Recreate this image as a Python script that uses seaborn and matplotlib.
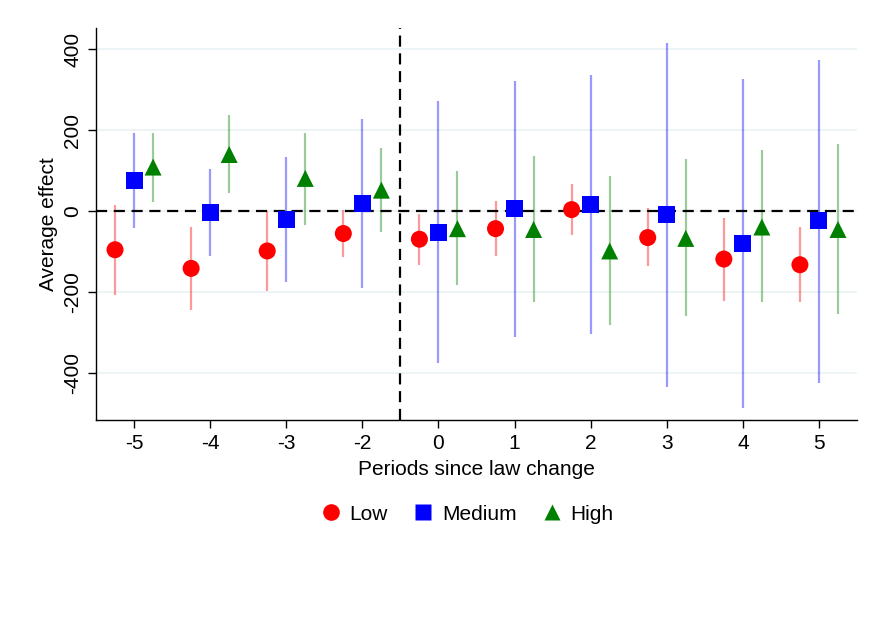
import numpy as np
import pandas as pd
import matplotlib
matplotlib.use("Agg")
import matplotlib.pyplot as plt
import seaborn as sns
from matplotlib.lines import Line2D

periods = ["-5", "-4", "-3", "-2", "0", "1", "2", "3", "4", "5"]
groups = ["Low", "Medium", "High"]

low_est = [-95, -141, -98, -55, -69, -43, 4, -65, -118, -132]
low_lo = [-206, -243, -197, -113, -133, -111, -59, -136, -222, -224]
low_hi = [15, -40, 0, 2, -7, 26, 67, 7, -16, -39]

med_est = [75, -4, -21, 19, -52, 6, 17, -8, -80, -24]
med_lo = [-41, -111, -174, -189, -374, -310, -302, -434, -486, -424]
med_hi = [192, 103, 133, 227, 272, 321, 337, 416, 325, 374]

high_est = [109, 140, 81, 52, -43, -45, -98, -67, -39, -45]
high_lo = [23, 45, -33, -51, -183, -224, -280, -258, -224, -254]
high_hi = [192, 237, 194, 156, 99, 137, 86, 128, 151, 165]

colors = {"Low": "#FF0000", "Medium": "#0000FF", "High": "#008000"}
markers = {"Low": "o", "Medium": "s", "High": "^"}
offsets = {"Low": -0.25, "Medium": 0.0, "High": 0.25}

rows = []
for g, est, lo, hi in [("Low", low_est, low_lo, low_hi),
                       ("Medium", med_est, med_lo, med_hi),
                       ("High", high_est, high_lo, high_hi)]:
    for i, p in enumerate(periods):
        rows.append({"period": p, "idx": i, "group": g, "est": est[i],
                     "lo": lo[i], "hi": hi[i], "x": i + offsets[g]})
df = pd.DataFrame(rows)

sns.set_theme(style="white")
plt.rcParams["font.family"] = ["Liberation Sans", "DejaVu Sans"]
plt.rcParams["text.color"] = "black"
plt.rcParams["axes.labelcolor"] = "black"
plt.rcParams["xtick.color"] = "black"
plt.rcParams["ytick.color"] = "black"

FS = 15

fig = plt.figure(figsize=(8.7, 6.23), dpi=100)
ax = fig.add_axes([96/870, 1 - 420/623, (857-96)/870, (420-28)/623])

for yv in [-400, -200, 0, 200, 400]:
    ax.axhline(yv, color="#EAF2F3", lw=1.2, zorder=0)

for g in groups:
    sub = df[df.group == g]
    ax.vlines(sub["x"], sub["lo"], sub["hi"], color=colors[g], alpha=0.4, lw=1.6, zorder=1)

ax.axhline(0, color="black", lw=1.6, ls=(0, (5, 3)), zorder=2)
ax.axvline(3.5, color="black", lw=1.6, ls=(0, (5, 3)), zorder=2)

sns.scatterplot(data=df, x="x", y="est", hue="group", style="group",
                palette=colors, markers=markers, s=150, edgecolor="none",
                linewidth=0, ax=ax, legend=False, zorder=3)

ax.set_xlim(-0.5, len(periods) - 0.5)
ax.set_ylim(-515, 452)
ax.set_xticks(range(len(periods)))
ax.set_xticklabels(periods, fontsize=FS)
ax.set_yticks([-400, -200, 0, 200, 400])
ax.set_yticklabels(["-400", "-200", "0", "200", "400"], fontsize=FS, rotation=90, va="center")
ax.set_xlabel("Periods since law change", fontsize=FS, labelpad=5)
ax.set_ylabel("Average effect", fontsize=FS, labelpad=4)
ax.tick_params(axis="both", direction="out", length=6, width=1, color="black", bottom=True, left=True, pad=4)
for s in ["top", "right"]:
    ax.spines[s].set_visible(False)
for s in ["left", "bottom"]:
    ax.spines[s].set_color("black")
    ax.spines[s].set_linewidth(1)

handles = [Line2D([0], [0], marker=markers[g], color="none", markerfacecolor=colors[g],
                  markeredgecolor="none", markersize=12, label=g) for g in groups]
fig.legend(handles=handles, loc="center", bbox_to_anchor=(467/870, 1 - 514/623),
           ncol=3, frameon=False, fontsize=FS, handletextpad=0.4, columnspacing=1.2,
           handlelength=1.0)

fig.savefig("out.png", dpi=100, facecolor="white")
